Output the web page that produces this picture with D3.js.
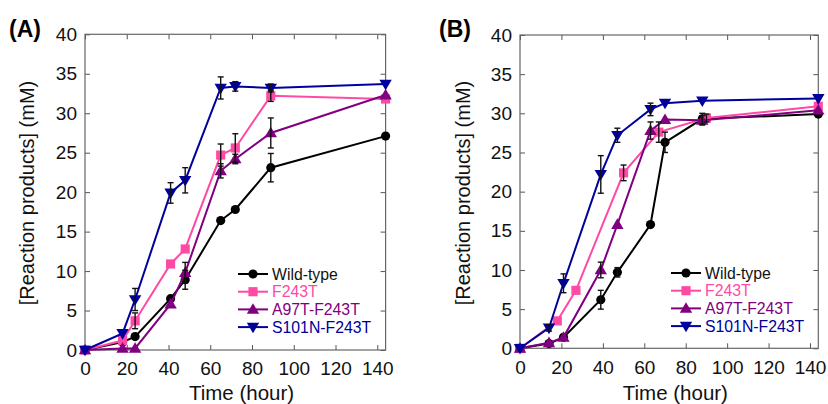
<!DOCTYPE html>
<html lang="en">
<head>
<meta charset="utf-8">
<script src="https://d3js.org/d3.v7.min.js"></script>
<style>
  body { margin: 0; background: #fff; }
  svg text { font-family: "Liberation Sans", Arial, sans-serif; font-weight: normal; }
  .tick text { font-size: 19px; fill: #111; }
</style>
</head>
<body>
<div id="chart"></div>
<script>
// ---- data ----
var seriesNames = ["Wild-type", "F243T", "A97T-F243T", "S101N-F243T"];
var seriesColors = ["#000000", "#ff4aa5", "#800080", "#00009c"];
var seriesSymbols = ["circle", "square", "triangleUp", "triangleDown"];
var xTicks = [0, 20, 40, 60, 80, 100, 120, 140];
var yTicks = [0, 5, 10, 15, 20, 25, 30, 35, 40];

// panel A
var timeA = [0, 18, 24, 41, 48, 65, 72, 89, 144];
var wtA = [0, 1.0, 1.7, 6.5, 8.9, 16.4, 17.8, 23.1, 27.1];
var wtAerr = [0, 0, 0, 0.3, 1.2, 0.3, 0.3, 1.8, 0.3];
var f243tA = [0, 1.2, 3.7, 10.9, 12.8, 24.7, 25.6, 32.2, 31.8];
var f243tAerr = [0, 0, 1.0, 0.3, 0.3, 1.4, 1.8, 0.7, 0.3];
var a97tA = [0, 0.2, 0.2, 5.8, 9.8, 22.7, 24.2, 27.5, 32.3];
var a97tAerr = [0, 0, 0, 0.3, 1.3, 0.9, 0.6, 1.9, 0.3];
var s101nA = [0, 2.1, 6.4, 19.9, 21.5, 33.2, 33.4, 33.2, 33.7];
var s101nAerr = [0, 0, 1.4, 1.3, 1.6, 1.4, 0.6, 0.5, 0.3];

// panel B
var wtBtime = [0, 14, 21, 39, 47, 63, 70, 88, 144];
var wtB = [0, 0.6, 1.4, 6.2, 9.7, 15.8, 26.3, 29.3, 29.9];
var wtBerr = [0, 0, 0, 1.2, 0.6, 0.3, 1.3, 0.7, 0.3];
var f243tBtime = [0, 18, 27, 50, 67, 90, 144];
var f243tB = [0, 3.5, 7.4, 22.4, 27.6, 29.4, 30.9];
var f243tBerr = [0, 0, 0, 1.0, 1.3, 0.5, 0.3];
var a97tBtime = [0, 14, 21, 39, 47, 63, 70, 88, 144];
var a97tB = [0, 0.7, 1.4, 10.0, 15.8, 27.8, 29.2, 29.1, 30.4];
var a97tBerr = [0, 0, 0, 1.0, 0.3, 1.1, 0.3, 0.6, 0.3];
var s101nBtime = [0, 14, 21, 39, 47, 63, 70, 88, 144];
var s101nB = [0, 2.6, 8.3, 22.2, 27.2, 30.5, 31.3, 31.6, 31.9];
var s101nBerr = [0, 0.4, 1.2, 2.4, 0.9, 0.8, 0.3, 0.3, 0.3];

var W = 828, H = 404;
var svg = d3.select("#chart").append("svg")
  .attr("width", W).attr("height", H);

function symbolPath(kind) {
  if (kind == "circle") return d3.symbol(d3.symbolCircle, 66)();
  if (kind == "square") return d3.symbol(d3.symbolSquare, 84)();
  var s = 6.2;
  if (kind == "triangleUp") return "M0," + (-s) + "L" + (s * 1.0) + "," + (s * 0.7) + "L" + (-s * 1.0) + "," + (s * 0.7) + "Z";
  return "M0," + s + "L" + (s * 1.0) + "," + (-s * 0.7) + "L" + (-s * 1.0) + "," + (-s * 0.7) + "Z";
}

function drawPanel(p) {
  var g = svg.append("g").attr("transform", "translate(" + p.left + "," + p.top + ")");
  var x = d3.scaleLinear().domain([0, 144]).range([0, p.w]);
  var y = d3.scaleLinear().domain([0, 40]).range([p.h, 0]);

  // inward ticks on all four sides
  g.append("g").attr("transform", "translate(0," + p.h + ")")
    .call(d3.axisBottom(x).tickValues(xTicks).tickSizeInner(-5).tickSizeOuter(0).tickPadding(12));
  g.append("g")
    .call(d3.axisTop(x).tickValues(xTicks).tickSizeInner(-5).tickSizeOuter(0).tickFormat(""));
  g.append("g")
    .call(d3.axisLeft(y).tickValues(yTicks).tickSizeInner(-5).tickSizeOuter(0).tickPadding(8));
  g.append("g").attr("transform", "translate(" + p.w + ",0)")
    .call(d3.axisRight(y).tickValues(yTicks).tickSizeInner(-5).tickSizeOuter(0).tickFormat(""));
  g.selectAll(".domain").remove();
  g.selectAll(".tick line").attr("stroke", "#555");
  g.append("rect").attr("width", p.w).attr("height", p.h)
    .attr("fill", "none").attr("stroke", "#666").attr("stroke-width", 1.2);

  var line = d3.line().x(function(d) { return x(d.t); }).y(function(d) { return y(d.v); });

  p.series.forEach(function(s, i) {
    var pts = s.t.map(function(t, k) { return { t: t, v: s.v[k], e: s.e[k] }; });
    g.append("path").datum(pts).attr("d", line)
      .attr("fill", "none").attr("stroke", seriesColors[i]).attr("stroke-width", 2);
    g.selectAll(".m" + i).data(pts).enter().append("path")
      .attr("transform", function(d) { return "translate(" + x(d.t) + "," + y(d.v) + ")"; })
      .attr("d", symbolPath(seriesSymbols[i]))
      .attr("fill", seriesColors[i]);
  });

  // error bars
  p.series.forEach(function(s, i) {
    var pts = s.t.map(function(t, k) { return { t: t, v: s.v[k], e: s.e[k] }; })
      .filter(function(d) { return d.e > 0.35; });
    var eb = g.selectAll(".e" + i).data(pts).enter().append("g").attr("stroke", "#111").attr("stroke-width", 1.4);
    eb.append("line")
      .attr("x1", function(d) { return x(d.t); }).attr("x2", function(d) { return x(d.t); })
      .attr("y1", function(d) { return y(d.v - d.e); }).attr("y2", function(d) { return y(d.v + d.e); });
    [1, -1].forEach(function(sg) {
      eb.append("line")
        .attr("x1", function(d) { return x(d.t) - 3; }).attr("x2", function(d) { return x(d.t) + 3; })
        .attr("y1", function(d) { return y(d.v + sg * d.e); }).attr("y2", function(d) { return y(d.v + sg * d.e); });
    });
  });

  // legend
  var lg = svg.append("g").attr("transform", "translate(" + p.legX + "," + p.legY + ")");
  seriesNames.forEach(function(name, i) {
    var row = lg.append("g").attr("transform", "translate(0," + (i * 17.7) + ")");
    row.append("line").attr("x1", 0).attr("x2", 30).attr("stroke", seriesColors[i]).attr("stroke-width", 2);
    row.append("path").attr("transform", "translate(15,0)").attr("d", symbolPath(seriesSymbols[i])).attr("fill", seriesColors[i]);
    row.append("text").attr("x", 34).attr("y", 5.6).attr("font-size", "15.8px")
      .attr("fill", i == 0 ? "#111" : seriesColors[i]).text(name);
  });

  // titles
  svg.append("text").attr("x", p.left + x(75)).attr("y", 400).attr("text-anchor", "middle")
    .attr("font-size", "20.5px").attr("fill", "#111").text("Time (hour)");
  svg.append("text").attr("transform", "translate(" + p.yTitleX + ",193) rotate(-90)")
    .attr("text-anchor", "middle").attr("font-size", "20px").attr("fill", "#111").text("[Reaction products] (mM)");
  svg.append("text").attr("x", p.labX).attr("y", 37).attr("font-size", "23px")
    .style("font-weight", "bold").text(p.label);
}

drawPanel({
  left: 85, top: 34.3, w: 300.6, h: 315.7, legX: 238, legY: 274, yTitleX: 34, labX: 9, label: "(A)",
  series: [
    { t: timeA, v: wtA, e: wtAerr },
    { t: timeA, v: f243tA, e: f243tAerr },
    { t: timeA, v: a97tA, e: a97tAerr },
    { t: timeA, v: s101nA, e: s101nAerr }
  ]
});
drawPanel({
  left: 520, top: 35, w: 298.3, h: 313.3, legX: 671, legY: 273, yTitleX: 470, labX: 439, label: "(B)",
  series: [
    { t: wtBtime, v: wtB, e: wtBerr },
    { t: f243tBtime, v: f243tB, e: f243tBerr },
    { t: a97tBtime, v: a97tB, e: a97tBerr },
    { t: s101nBtime, v: s101nB, e: s101nBerr }
  ]
});
</script>
</body>
</html>
